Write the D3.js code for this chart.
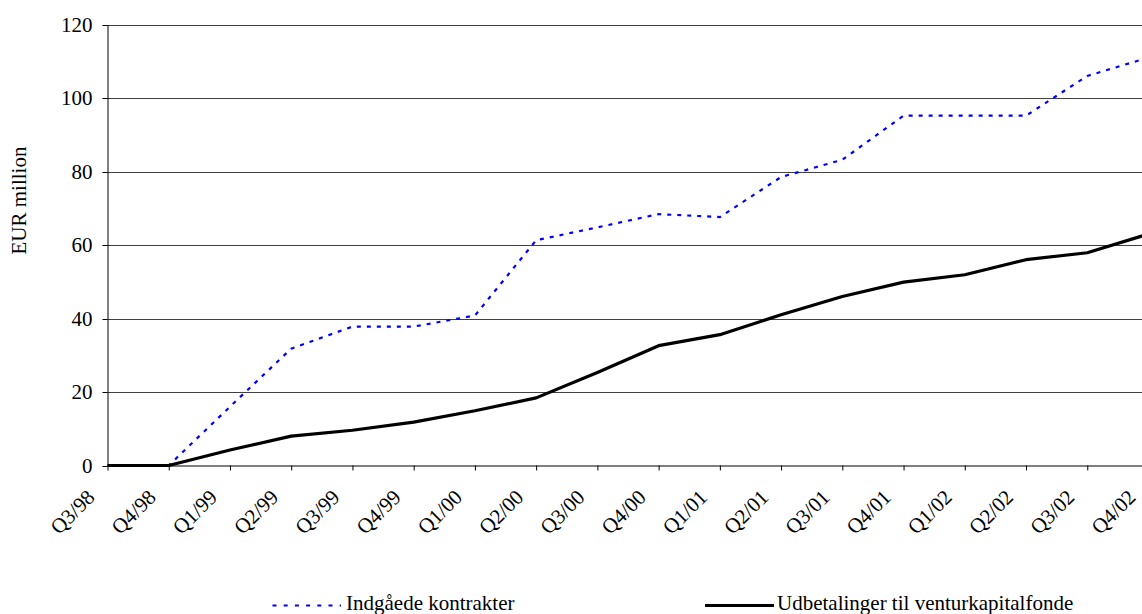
<!DOCTYPE html>
<html><head><meta charset="utf-8">
<script src="https://cdn.jsdelivr.net/npm/d3@7"></script>
<style>
body{margin:0;background:#fff}
svg{display:block}
text{font-family:"Liberation Serif","Times New Roman",serif;fill:#000}
</style>
</head><body><svg id="c" width="1142" height="614"></svg>
<script>
const categories = ["Q3/98","Q4/98","Q1/99","Q2/99","Q3/99","Q4/99","Q1/00","Q2/00","Q3/00","Q4/00","Q1/01","Q2/01","Q3/01","Q4/01","Q1/02","Q2/02","Q3/02","Q4/02"];
const contracts = [0,0,16,31.8,37.8,37.8,40.8,61.3,64.8,68.4,67.6,78.5,83.2,95.2,95.2,95.2,106,111];
const payments  = [0,0,4.2,8,9.6,11.8,14.9,18.4,25.3,32.6,35.6,41,46,49.9,51.9,56,57.9,63];
const yTicks = [0,20,40,60,80,100,120];
const seriesNames = ["Indgåede kontrakter","Udbetalinger til venturkapitalfonde"];
const yTitle = "EUR million";

const svg = d3.select("#c");
const x = d3.scalePoint().domain(categories).range([107.5,1148.5]);
const y = d3.scaleLinear().domain([0,120]).range([465.5,24.5]);

// gridlines
svg.append("g").selectAll("line").data(yTicks.filter(d=>d>0)).join("line")
  .attr("x1",107.5).attr("x2",1142)
  .attr("y1",d=>Math.round(y(d))+0.5).attr("y2",d=>Math.round(y(d))+0.5)
  .attr("stroke","#404040").attr("stroke-width",1);

// y axis
const ya = svg.append("g").attr("transform","translate(107.5,0)")
  .call(d3.axisLeft(y).tickValues(yTicks).tickSize(5).tickSizeOuter(0).tickPadding(10).tickFormat(d3.format("d")));
ya.selectAll("text").attr("font-size",21).attr("font-family","Liberation Serif").attr("fill","#000");
ya.selectAll("line,path").attr("stroke","#000");
ya.selectAll(".tick").attr("transform",d=>`translate(0,${Math.round(y(d))+0.5})`);

// x axis
const xa = svg.append("g").attr("transform","translate(0,465.5)")
  .call(d3.axisBottom(x).tickSize(5).tickSizeOuter(0));
xa.selectAll("line,path").attr("stroke","#000");
xa.selectAll("text").attr("font-size",21).attr("font-family","Liberation Serif").attr("fill","#000")
  .attr("text-anchor","end").attr("x",0).attr("y",0).attr("dy",0)
  .attr("transform","translate(-12,33) rotate(-45)");

// y title
svg.append("text").attr("transform","translate(25.5,200.5) rotate(-90)")
  .attr("text-anchor","middle").attr("font-size",21).text(yTitle);

const line = d3.line().x((d,i)=>x(categories[i])).y(d=>y(d));

svg.append("path").datum(contracts).attr("d",line)
  .attr("fill","none").attr("stroke","#0000ff").attr("stroke-width",2.2)
  .attr("stroke-dasharray","4,6");
svg.append("path").datum(payments).attr("d",line)
  .attr("fill","none").attr("stroke","#000").attr("stroke-width",3.2)
  .attr("stroke-linejoin","round");

// legend
const lg = svg.append("g");
lg.append("line").attr("x1",272.5).attr("x2",341).attr("y1",605.5).attr("y2",605.5)
  .attr("stroke","#0000ff").attr("stroke-width",2.2).attr("stroke-dasharray","4,7.2");
lg.append("text").attr("x",346).attr("y",610).attr("font-size",21).text(seriesNames[0]);
lg.append("line").attr("x1",705).attr("x2",774).attr("y1",605.5).attr("y2",605.5)
  .attr("stroke","#000").attr("stroke-width",3.2);
lg.append("text").attr("x",777).attr("y",610).attr("font-size",21).text(seriesNames[1]);
</script>
</body></html>
